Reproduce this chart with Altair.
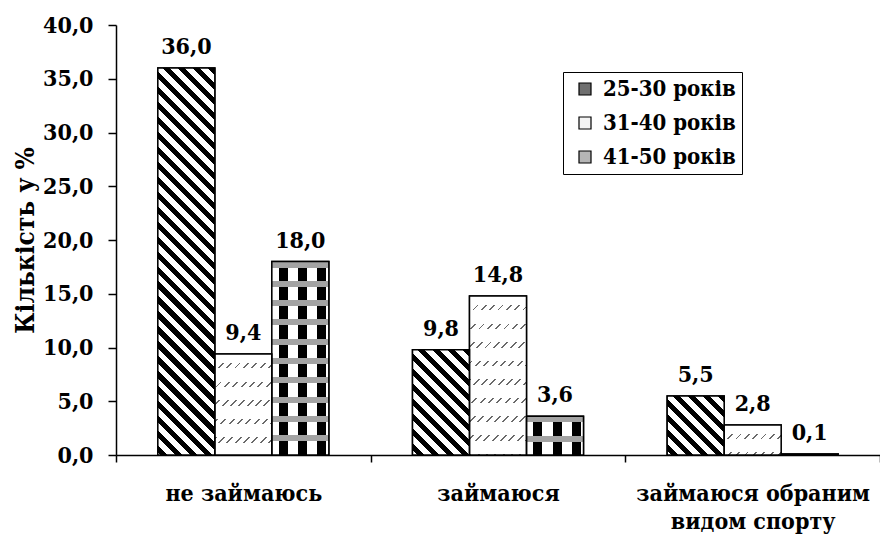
import math
import altair as alt
import pandas as pd

# ---------------- data ----------------
categories = ["не займаюсь", "займаюся", "займаюся обраним видом спорту"]
series = ["25-30 років", "31-40 років", "41-50 років"]
values_25_30 = [36.0, 9.8, 5.5]
values_31_40 = [9.4, 14.8, 2.8]
values_41_50 = [18.0, 3.6, 0.1]
y_ticks = [0, 5, 10, 15, 20, 25, 30, 35, 40]

series_values = [values_25_30, values_31_40, values_41_50]
rows = []
for s, vals in zip(series, series_values):
    for c, v in zip(categories, vals):
        rows.append({"category": c, "series": s, "value": v})
df = pd.DataFrame(rows)

# ---------------- layout / style ----------------
W, H = 764, 430
YMAX = 40
FONT = "DejaVu Serif Condensed"
FS = 23
OFF_PAD = 0.734
step = W / len(categories)
bar_w = step / (len(series) + 2 * OFF_PAD)
px_per_unit = H / YMAX


def make_stops(L, period, on_len, phase, on, off):
    intervals = []
    i = -2
    while True:
        a = phase + i * period
        b = a + on_len
        if a >= L:
            break
        ac, bc = max(a, 0.0), min(b, L)
        if bc > ac:
            intervals.append((ac, bc))
        i += 1
    stops = [(0.0, off)]
    for a, b in intervals:
        stops += [(a / L, off), (a / L, on), (b / L, on), (b / L, off)]
    stops.append((1.0, off))
    return [alt.GradientStop(color=c, offset=round(min(max(o, 0), 1), 5)) for o, c in stops]


def diag(w, h, period, on_len, on, off, kind):
    s = c = math.sqrt(0.5)
    R = w * s + h * c
    k = R / (w * w * s * s + h * h * c * c)
    if kind == "down":
        x1, y1, x2, y2 = 1.0, 0.0, 1 - k * w * s, k * h * c
    else:
        x1, y1, x2, y2 = 0.0, 0.0, k * w * s, k * h * c
    return alt.LinearGradient(gradient="linear", stops=make_stops(R, period, on_len, 0, on, off),
                              x1=round(x1, 5), y1=round(y1, 5), x2=round(x2, 5), y2=round(y2, 5))


def horiz_bands(h, period, on_len, phase, on, off):
    return alt.LinearGradient(gradient="linear", stops=make_stops(h, period, on_len, phase, on, off),
                              x1=0, y1=0, x2=0, y2=1)


def vert_stripes(w, period, on_len, phase, on, off):
    return alt.LinearGradient(gradient="linear", stops=make_stops(w, period, on_len, phase, on, off),
                              x1=0, y1=0, x2=1, y2=0)


CLEAR = "rgba(255,255,255,0)"


def pattern_fills(series_index, h):
    w = bar_w
    if series_index == 0:
        return [diag(w, h, 10.6, 5.0, "black", "white", "down")]
    if series_index == 1:
        return [diag(w, h, 5.9, 1.3, "#6a6a6a", "white", "up"),
                horiz_bands(h, 18.6, 5.5, 9, CLEAR, "white")]
    return [vert_stripes(w, 19.3, 9, 7, "black", "white"),
            horiz_bands(h, 19.3, 6, 0, "#a3a3a3", CLEAR)]


# ---------------- encodings ----------------
X = alt.X("category:N", sort=categories, title=None,
          scale=alt.Scale(paddingInner=0, paddingOuter=0),
          axis=alt.Axis(labelAngle=0, tickBand="extent", tickSize=7, tickWidth=1.5,
                        tickColor="black", domainColor="black", domainWidth=1.5,
                        labelFont=FONT, labelFontSize=FS, labelFontWeight="bold",
                        labelColor="black", labelPadding=20, labelLineHeight=28,
                        labelLimit=400,
                        labelExpr="datum.label == 'займаюся обраним видом спорту' ? ['займаюся обраним', 'видом спорту'] : datum.label"))
XO = alt.XOffset("series:N", sort=series,
                 scale=alt.Scale(paddingOuter=OFF_PAD, paddingInner=0))
Y = alt.Y("value:Q", title="Кількість у %",
          scale=alt.Scale(domain=[0, YMAX], nice=False),
          axis=alt.Axis(values=y_ticks, grid=False, tickSize=8, tickWidth=1.5,
                        tickColor="black", domainColor="black", domainWidth=1.5,
                        labelFont=FONT, labelFontSize=FS, labelFontWeight="bold",
                        labelColor="black", labelPadding=15,
                        labelExpr="replace(format(datum.value, '.1f'), '.', ',')",
                        titleFont=FONT, titleFontSize=26, titleFontWeight="bold",
                        titleColor="black", titleX=-91, titleY=H / 2,
                        titleAngle=270, titleBaseline="middle", titleAlign="center"))

base = alt.Chart(df).mark_bar(stroke="black", strokeWidth=1.5).encode(
    x=X, xOffset=XO, y=Y,
    fill=alt.Fill("series:N", sort=series, title=None,
                  scale=alt.Scale(domain=series, range=["#6f6f6f", "#f4f4f4", "#b5b5b5"]),
                  legend=alt.Legend(orient="none", legendX=447, legendY=47,
                                    symbolType="square", symbolSize=144,
                                    symbolStrokeColor="black", symbolStrokeWidth=1.2,
                                    symbolOffset=5,
                                    labelFont=FONT, labelFontSize=22, labelFontWeight="bold",
                                    labelColor="black", labelOffset=7,
                                    strokeColor="black", fillColor="white",
                                    padding=6, rowPadding=12)),
)

overlays = []
for si, (s, vals) in enumerate(zip(series, series_values)):
    for c, v in zip(categories, vals):
        h = v * px_per_unit
        for g in pattern_fills(si, h):
            overlays.append(
                alt.Chart(df)
                .transform_filter(f"datum.category === '{c}' && datum.series === '{s}'")
                .mark_bar(fill=g)
                .encode(x=X, xOffset=XO, y=Y)
            )

outline = alt.Chart(df).mark_bar(fillOpacity=0, stroke="black", strokeWidth=1.5).encode(
    x=X, xOffset=XO, y=Y)

labels = alt.Chart(df).transform_calculate(
    label="replace(format(datum.value, '.1f'), '.', ',')"
).mark_text(dy=-14, baseline="alphabetic", font=FONT, fontSize=FS,
            fontWeight="bold", color="black").encode(
    x=X, xOffset=XO, y=Y, text="label:N")

chart = alt.layer(base, *overlays, outline, labels).properties(
    width=W, height=H,
    padding={"left": 116, "top": 25, "right": 0, "bottom": 83},
    autosize=alt.AutoSizeParams(type="none"),
    background="white",
).configure_view(stroke="transparent")

chart.save("out.html", embed_options={"renderer": "svg", "actions": False})
